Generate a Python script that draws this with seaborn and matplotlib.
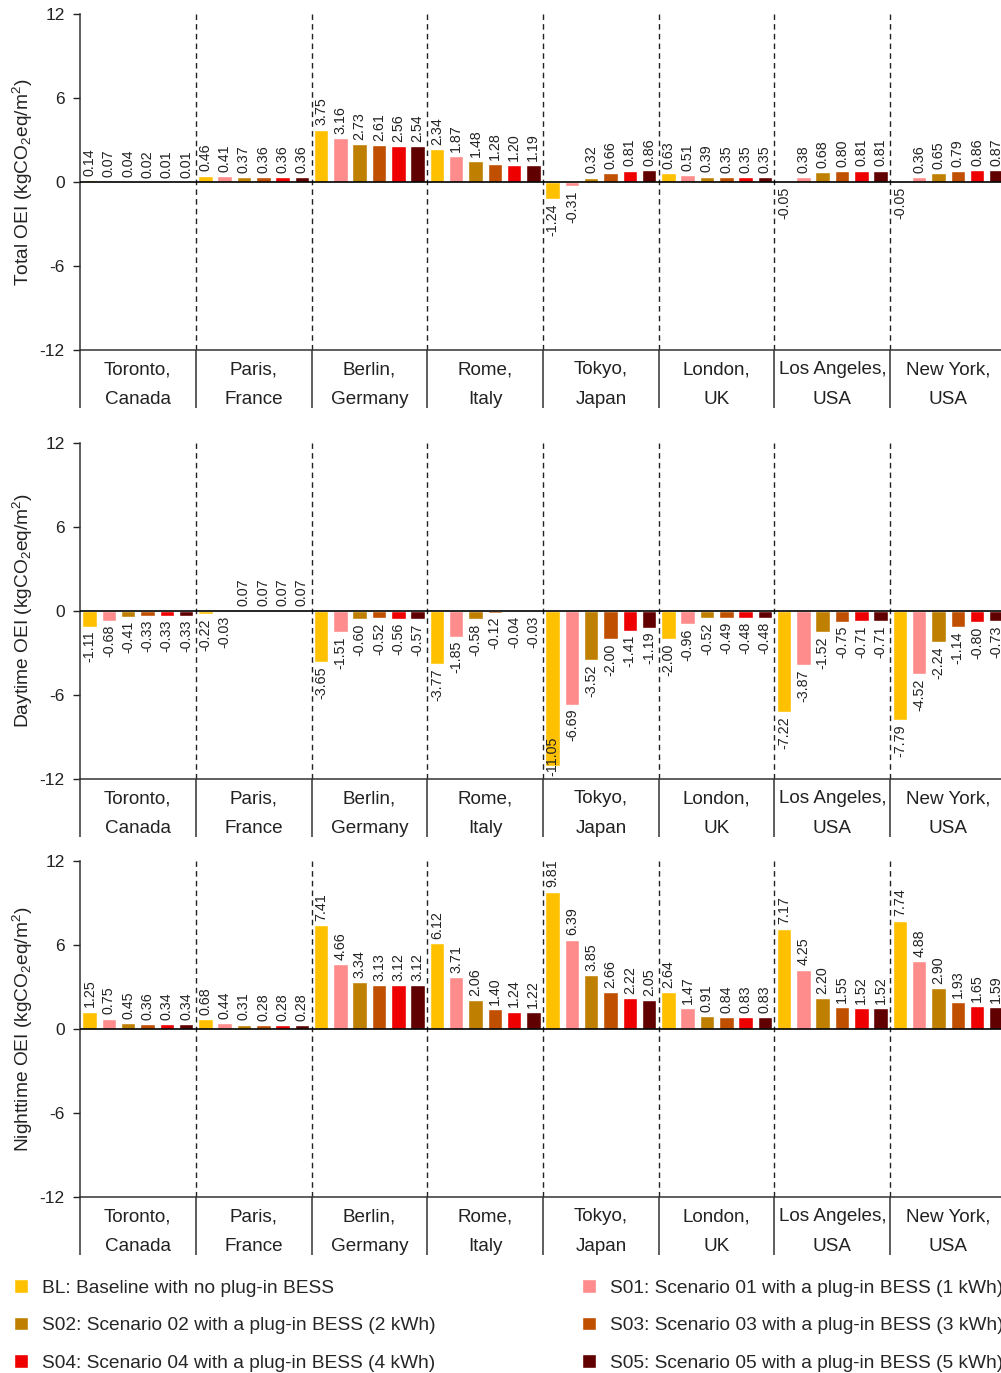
import matplotlib
matplotlib.use("Agg")
import matplotlib.pyplot as plt
import seaborn as sns
import pandas as pd

# Cities (x categories) and scenarios (hue)
cities = ["Toronto,\nCanada", "Paris,\nFrance", "Berlin,\nGermany", "Rome,\nItaly",
          "Tokyo,\nJapan", "London,\nUK", "Los Angeles,\nUSA", "New York,\nUSA"]
scenarios = [
    "BL: Baseline with no plug-in BESS",
    "S01: Scenario 01 with a plug-in BESS (1 kWh)",
    "S02: Scenario 02 with a plug-in BESS (2 kWh)",
    "S03: Scenario 03 with a plug-in BESS (3 kWh)",
    "S04: Scenario 04 with a plug-in BESS (4 kWh)",
    "S05: Scenario 05 with a plug-in BESS (5 kWh)",
]
colors = ["#FFC000", "#FF8C8C", "#BF7F00", "#C04F00", "#EE0000", "#600000"]

# values per city, one entry per scenario (BL, S01..S05)
total_oei = [
    [0.14, 0.07, 0.04, 0.02, 0.01, 0.01],
    [0.46, 0.41, 0.37, 0.36, 0.36, 0.36],
    [3.75, 3.16, 2.73, 2.61, 2.56, 2.54],
    [2.34, 1.87, 1.48, 1.28, 1.20, 1.19],
    [-1.24, -0.31, 0.32, 0.66, 0.81, 0.86],
    [0.63, 0.51, 0.39, 0.35, 0.35, 0.35],
    [-0.05, 0.38, 0.68, 0.80, 0.81, 0.81],
    [-0.05, 0.36, 0.65, 0.79, 0.86, 0.87],
]
daytime_oei = [
    [-1.11, -0.68, -0.41, -0.33, -0.33, -0.33],
    [-0.22, -0.03, 0.07, 0.07, 0.07, 0.07],
    [-3.65, -1.51, -0.60, -0.52, -0.56, -0.57],
    [-3.77, -1.85, -0.58, -0.12, -0.04, -0.03],
    [-11.05, -6.69, -3.52, -2.00, -1.41, -1.19],
    [-2.00, -0.96, -0.52, -0.49, -0.48, -0.48],
    [-7.22, -3.87, -1.52, -0.75, -0.71, -0.71],
    [-7.79, -4.52, -2.24, -1.14, -0.80, -0.73],
]
nighttime_oei = [
    [1.25, 0.75, 0.45, 0.36, 0.34, 0.34],
    [0.68, 0.44, 0.31, 0.28, 0.28, 0.28],
    [7.41, 4.66, 3.34, 3.13, 3.12, 3.12],
    [6.12, 3.71, 2.06, 1.40, 1.24, 1.22],
    [9.81, 6.39, 3.85, 2.66, 2.22, 2.05],
    [2.64, 1.47, 0.91, 0.84, 0.83, 0.83],
    [7.17, 4.25, 2.20, 1.55, 1.52, 1.52],
    [7.74, 4.88, 2.90, 1.93, 1.65, 1.59],
]
panel_labels = ["Total OEI", "Daytime OEI", "Nighttime OEI"]
yticks = [-12, -6, 0, 6, 12]

sns.set_style("white")
plt.rcParams["font.family"] = ["Liberation Sans", "DejaVu Sans"]
plt.rcParams["mathtext.fontset"] = "custom"
plt.rcParams["mathtext.rm"] = "Liberation Sans"
plt.rcParams["mathtext.it"] = "Liberation Sans:italic"
plt.rcParams["axes.unicode_minus"] = False

fig = plt.figure(figsize=(10.01, 13.73), dpi=100)
W, H = 1001, 1373
panel_tops = [14, 443, 861]
panel_h = 336
left_px, width_px = 80, 926

palette = dict(zip(scenarios, colors))
axes = []
for i, (name, vals) in enumerate(zip(panel_labels, [total_oei, daytime_oei, nighttime_oei])):
    top = panel_tops[i]
    ax = fig.add_axes([left_px / W, 1 - (top + panel_h) / H, width_px / W, panel_h / H])
    axes.append(ax)

    df = pd.DataFrame(
        [(c, s, v) for c, row in zip(cities, vals) for s, v in zip(scenarios, row)],
        columns=["city", "scenario", "value"],
    )
    sns.barplot(data=df, x="city", y="value", hue="scenario", hue_order=scenarios,
                order=cities, palette=palette, width=1.0, gap=0.25, saturation=1,
                legend=(i == 0), ax=ax, errorbar=None)

    ax.set_ylim(-12, 12)
    ax.set_xlim(-0.5, len(cities) - 0.5)
    ax.set_yticks(yticks)
    ax.tick_params(axis="y", labelsize=12.5, length=5, width=1, direction="out",
                   pad=6, left=True, colors="#222222")
    ax.set_ylabel(name + r" (kgCO$\mathregular{_2}$eq/m$\mathregular{^2}$)", fontsize=13.8,
                  color="#222222")
    ax.yaxis.set_label_coords(-0.049, 0.5)
    ax.set_xlabel("")

    # category labels below with separators running down
    ax.set_xticks(range(len(cities)))
    ax.set_xticklabels(cities, fontsize=13.6, linespacing=2.0)
    ax.set_xticks([k + 0.5 for k in range(-1, len(cities))], minor=True)
    ax.tick_params(axis="x", which="major", length=0, pad=8, colors="#222222")
    ax.tick_params(axis="x", which="minor", length=42, width=1.1, direction="out",
                   bottom=True, color="#333333")

    for sp in ["top", "right"]:
        ax.spines[sp].set_visible(False)
    for sp in ["left", "bottom"]:
        ax.spines[sp].set_linewidth(1.1)
        ax.spines[sp].set_color("#333333")

    ax.axhline(0, color="black", lw=1.2, zorder=3)
    for k in range(len(cities) - 1):
        ax.axvline(k + 0.5, color="#222222", lw=1, linestyle=(0, (4, 3)), zorder=1)

    # value labels
    for cont in ax.containers:
        for bar in cont:
            h = bar.get_height()
            xc = bar.get_x() + bar.get_width() / 2
            txt = f"{h:.2f}"
            if h >= 0:
                ax.annotate(txt, (xc, h), xytext=(0, 3), textcoords="offset points",
                            ha="center", va="bottom", rotation=90, fontsize=10.3,
                            color="#222222")
            elif h < -10:
                ax.annotate(txt, (xc, -12), xytext=(0, 2), textcoords="offset points",
                            ha="center", va="bottom", rotation=90, fontsize=10.3,
                            color="#222222")
            else:
                ax.annotate(txt, (xc, h), xytext=(0, -3), textcoords="offset points",
                            ha="center", va="top", rotation=90, fontsize=10.3,
                            color="#222222")

# legend, filled row by row
handles, labels = axes[0].get_legend_handles_labels()
axes[0].get_legend().remove()
order = [0, 2, 4, 1, 3, 5]
fig.legend([handles[k] for k in order], [labels[k] for k in order],
           loc="upper left", bbox_to_anchor=(14 / W, 1 - 1279 / H), ncol=2,
           frameon=False, fontsize=13.8, handlelength=0.72, handleheight=0.72,
           handletextpad=0.75, columnspacing=7.62, labelspacing=1.05,
           borderpad=0, borderaxespad=0)

fig.savefig("out.png", dpi=100)
